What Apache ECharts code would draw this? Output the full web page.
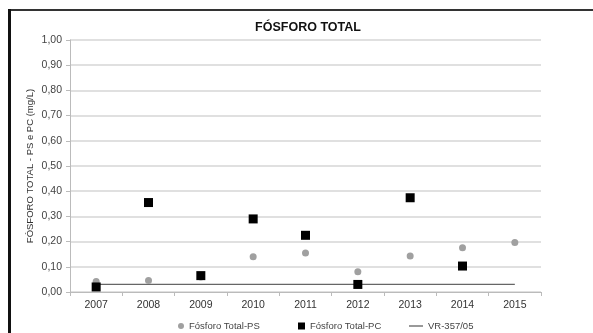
<!DOCTYPE html>
<html>
<head>
<meta charset="utf-8">
<script src="https://cdn.jsdelivr.net/npm/echarts@6/dist/echarts.min.js"></script>
<style>
  html, body { margin: 0; padding: 0; background: #fff; }
  #chart { width: 593px; height: 333px; position: relative; }
  .frame-top { position: absolute; left: 8px; top: 9px; width: 585px; height: 2px; background: #333; }
  .frame-left { position: absolute; left: 8px; top: 9px; width: 3px; height: 324px; background: #111; }
</style>
</head>
<body>
<div id="chart"></div>
<script>
// Anos de monitoramento
const years = ['2007', '2008', '2009', '2010', '2011', '2012', '2013', '2014', '2015'];
// Fósforo total (mg/L) – ponto PS
const psValues = [0.042, 0.046, 0.06, 0.14, 0.155, 0.08, 0.143, 0.176, 0.196];
// Fósforo total (mg/L) – ponto PC
const pcValues = [0.02, 0.355, 0.065, 0.29, 0.225, 0.03, 0.374, 0.103, null];
// Valor de referência CONAMA 357/05
const vrValues = [0.03, 0.03, 0.03, 0.03, 0.03, 0.03, 0.03, 0.03, 0.03];

const chart = echarts.init(document.getElementById('chart'));
const font = 'Liberation Sans, Arial, sans-serif';
const legendText = { fontSize: 9.5, color: '#444', fontFamily: font };

chart.setOption({
  animation: false,
  backgroundColor: '#fff',
  textStyle: { fontFamily: font },
  title: {
    text: 'FÓSFORO TOTAL',
    left: 303, top: 16, textAlign: 'center',
    textStyle: { fontSize: 12.5, fontWeight: 'bold', color: '#111', fontFamily: font }
  },
  grid: { left: 70, right: 52, top: 40, bottom: 41 },
  legend: [
    {
      left: 173, top: 316, itemWidth: 6, itemHeight: 6, itemGap: 0,
      icon: 'circle', textStyle: legendText,
      data: [{ name: 'Fósforo Total-PS', itemStyle: { color: '#a0a0a0', opacity: 1 } }]
    },
    {
      left: 293, top: 316, itemWidth: 7, itemHeight: 7, itemGap: 0,
      icon: 'rect', textStyle: legendText,
      data: [{ name: 'Fósforo Total-PC', itemStyle: { color: '#000', opacity: 1 } }]
    },
    {
      left: 404, top: 316, itemWidth: 14, itemHeight: 1.2, itemGap: 0,
      icon: 'rect', textStyle: legendText,
      data: [{ name: 'VR-357/05', itemStyle: { color: '#555' } }]
    }
  ],
  xAxis: {
    type: 'category',
    data: years,
    boundaryGap: true,
    axisLine: { lineStyle: { color: '#bbb', width: 1 } },
    axisTick: { show: true, length: 4, lineStyle: { color: '#bbb' } },
    axisLabel: { fontSize: 10.5, color: '#333', margin: 8, fontFamily: font },
    splitLine: { show: false }
  },
  yAxis: {
    type: 'value',
    min: 0, max: 1, interval: 0.1,
    name: 'FÓSFORO TOTAL - PS e PC (mg/L)',
    nameLocation: 'middle',
    nameGap: 35,
    nameMoveOverlap: false,
    nameTextStyle: { fontSize: 9.5, color: '#333', fontFamily: font },
    axisLine: { show: true, lineStyle: { color: '#bbb', width: 1 } },
    axisTick: { show: true, length: 4, lineStyle: { color: '#bbb' } },
    axisLabel: {
      fontSize: 10.5, color: '#444', margin: 8, fontFamily: font,
      formatter: v => v.toFixed(2).replace('.', ',')
    },
    splitLine: { lineStyle: { color: '#d6d6d6', width: 1.5 } }
  },
  series: [
    {
      name: 'Fósforo Total-PS',
      type: 'scatter',
      data: psValues,
      symbol: 'circle', symbolSize: 7,
      itemStyle: { color: '#a0a0a0', opacity: 1 },
      z: 3
    },
    {
      name: 'Fósforo Total-PC',
      type: 'scatter',
      data: pcValues,
      symbol: 'rect', symbolSize: 9,
      itemStyle: { color: '#000', opacity: 1 },
      z: 4
    },
    {
      name: 'VR-357/05',
      type: 'line',
      data: vrValues,
      showSymbol: false, symbol: 'none',
      lineStyle: { color: '#666', width: 1.2 },
      itemStyle: { color: '#666' },
      z: 2
    }
  ]
});
</script>
<div class="frame-top"></div>
<div class="frame-left"></div>
</body>
</html>
